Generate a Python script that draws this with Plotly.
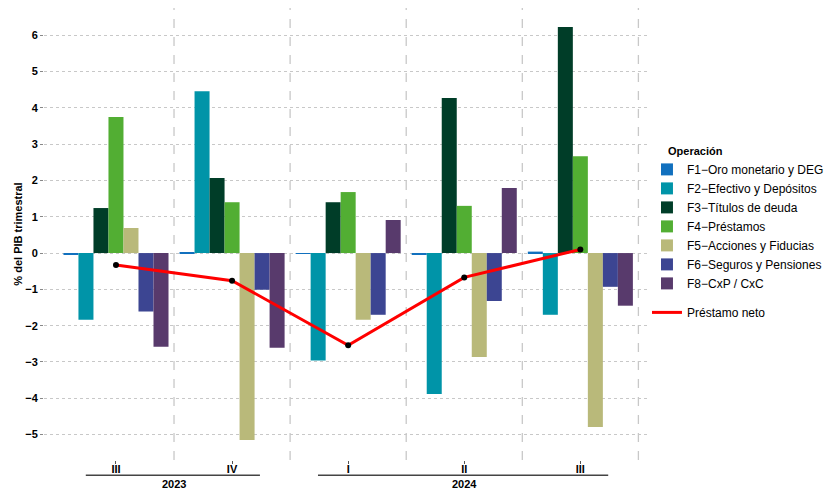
import plotly.graph_objects as go

# trimestres y años
quarters = ["III", "IV", "I", "II", "III"]
years = ["2023", "2023", "2024", "2024", "2024"]

# % del PIB trimestral por operación
f1 = [-0.03, 0.03, -0.02, -0.04, 0.04]
f2 = [-1.84, 4.46, -2.96, -3.88, -1.70]
f3 = [1.24, 2.07, 1.40, 4.27, 6.23]
f4 = [3.75, 1.40, 1.68, 1.30, 2.67]
f5 = [0.69, -5.15, -1.84, -2.86, -4.79]
f6 = [-1.61, -1.01, -1.70, -1.32, -0.93]
f8 = [-2.58, -2.61, 0.91, 1.79, -1.45]
prestamo_neto = [-0.33, -0.76, -2.54, -0.67, 0.10]

names = ["F1\u2212Oro monetario y DEG", "F2\u2212Efectivo y Depósitos",
         "F3\u2212Títulos de deuda", "F4\u2212Préstamos",
         "F5\u2212Acciones y Fiducias", "F6\u2212Seguros y Pensiones",
         "F8\u2212CxP / CxC"]
colors = ["#1170BE", "#0094A8", "#003D28", "#52AE33",
          "#B9B97A", "#3C4592", "#583A6C"]
series = [f1, f2, f3, f4, f5, f6, f8]

FONT = "Liberation Sans, Arial, sans-serif"
x = list(range(len(quarters)))

fig = go.Figure()
for name, col, vals in zip(names, colors, series):
    fig.add_trace(go.Bar(x=x, y=vals, name=name, marker_color=col,
                         marker_line_width=0, legendgroup="op"))

fig.add_trace(go.Scatter(x=x, y=prestamo_neto, mode="lines", name="Préstamo neto",
                         line=dict(color="#FF0000", width=3), legendgroup="neto"))
fig.add_trace(go.Scatter(x=x, y=prestamo_neto, mode="markers", showlegend=False,
                         marker=dict(color="black", size=6), hoverinfo="skip"))

# separadores verticales entre trimestres
shapes = []
for i in range(len(quarters)):
    shapes.append(dict(type="line", xref="x", yref="paper", x0=i + 0.5, x1=i + 0.5,
                       y0=0, y1=1, line=dict(color="#C8C8C8", width=1.3, dash="dash"),
                       layer="below"))

# agrupación por año bajo el eje
annotations = []
for yr in dict.fromkeys(years):
    idx = [i for i, v in enumerate(years) if v == yr]
    x0, x1 = idx[0] - 0.26, idx[-1] + 0.24
    shapes.append(dict(type="line", xref="x", yref="paper", x0=x0, x1=x1,
                       y0=-0.034, y1=-0.034, line=dict(color="#444444", width=1.5)))
    annotations.append(dict(x=(idx[0] + idx[-1]) / 2, y=-0.053, xref="x", yref="paper",
                            text="<b>%s</b>" % yr, showarrow=False, yanchor="middle",
                            font=dict(family=FONT, size=11, color="black")))

annotations.append(dict(x=1.026, y=0.684, xref="paper", yref="paper", xanchor="left",
                        yanchor="middle", text="<b>Operación</b>", showarrow=False,
                        font=dict(family=FONT, size=11, color="black")))

fig.update_layout(
    width=828, height=485,
    margin=dict(l=36, r=186, t=0, b=33, autoexpand=False),
    plot_bgcolor="white", paper_bgcolor="white",
    barmode="group", bargap=0.095, bargroupgap=0,
    font=dict(family=FONT, color="black"),
    shapes=shapes, annotations=annotations,
    legend=dict(x=0.995, y=0.675, xanchor="left", yanchor="top",
                font=dict(family=FONT, size=12), tracegroupgap=10),
)
fig.update_xaxes(range=[-0.62, 4.6], tickvals=x, ticktext=quarters, automargin=False,
                 showgrid=False, zeroline=False, ticks="outside", ticklen=3,
                 ticklabelstandoff=-4,
                 tickcolor="#555555", tickfont=dict(family=FONT, size=11, weight="bold"))
fig.update_yaxes(range=[-5.7, 6.75], dtick=1, showgrid=True, gridcolor="#C8C8C8",
                 griddash="dot", zeroline=False, ticks="outside", ticklen=3,
                 automargin=False, tickcolor="#888888",
                 tickfont=dict(family=FONT, size=11, weight="bold"),
                 title=dict(text="<b>% del PIB trimestral</b>", standoff=0,
                            font=dict(family=FONT, size=11)))

fig.write_html("out.html")
